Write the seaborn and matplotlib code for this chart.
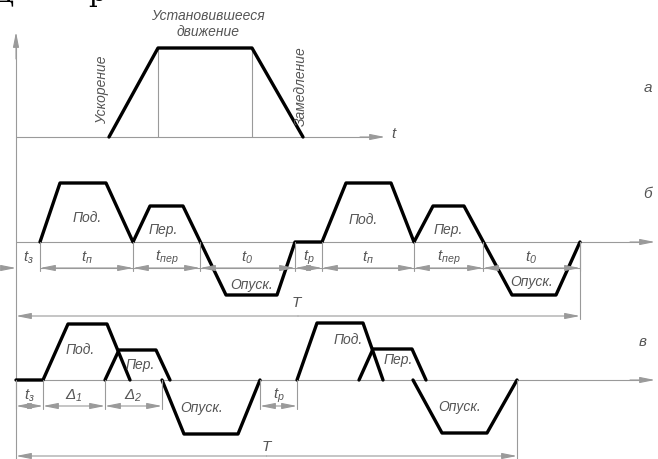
import pandas as pd
import seaborn as sns
import matplotlib.pyplot as plt

# --- chart values: time / speed in drawing units, measured from the speed axis ---
# a) one motion cycle
a_time = [93, 142, 236, 287]
a_speed = [0, 89, 89, 0]

# б) working cycle without overlap (two cycles)
b_time = [24, 44, 90, 117, 134, 167, 210, 261, 279,
          306, 330, 375, 398, 417, 448, 496, 540, 564]
b_speed = [0, 59, 59, 0, 36, 36, -53, -53, 0,
           0, 59, 59, 0, 36, 36, -53, -53, 0]
b_marks = [0, 24, 117, 184, 279, 306, 398, 467, 564]
b_marks_labels = ['з', 'п', 'пер', '0', 'р', 'п', 'пер', '0']
b_period = 564

# в) working cycle with overlap of lifting and moving
c_time = [0, 27, 52, 91, 114,
          89, 103, 140, 154,
          146, 168, 222, 244,
          281, 301, 347, 367,
          343, 357, 396, 410,
          397, 426, 471, 501]
c_speed = [0, 0, 56, 56, 0,
           0, 30, 30, 0,
           0, -54, -54, 0,
           0, 57, 57, 0,
           0, 31, 31, 0,
           0, -53, -53, 0]
c_piece = [1] * 5 + [2] * 4 + [3] * 4 + [4] * 4 + [5] * 4 + [6] * 4
c_marks = [[0, 27, 89, 146], [244, 281]]
c_marks_labels = [[r'$t_{з}$', r'$Δ_{1}$', r'$Δ_{2}$'], [r'$t_{р}$']]
c_period = 501

# --- layout ---
X0 = 16
BASE = {'а': 138, 'б': 243, 'в': 381}
THIN = '#9a9a9a'
TXT = '#555555'
FS = 10

sns.set_style('white')
plt.rcParams['font.family'] = ['Liberation Sans', 'DejaVu Sans']
plt.rcParams['mathtext.fontset'] = 'custom'
plt.rcParams['mathtext.it'] = 'Liberation Sans:italic'
plt.rcParams['mathtext.rm'] = 'Liberation Sans:italic'

fig = plt.figure(figsize=(6.58, 4.6), dpi=100)
ax = fig.add_axes([0, 0, 1, 1])
ax.set_xlim(0, 658)
ax.set_ylim(460, 0)
ax.set_axis_off()


def arrow(x1, y1, x2, y2, both=False, lw=0.8, color=THIN):
    style = '<|-|>' if both else '-|>'
    ax.annotate('', xy=(x2, y2), xytext=(x1, y1),
                arrowprops=dict(arrowstyle=style + ',head_length=0.9,head_width=0.18',
                                mutation_scale=10, lw=lw, color=color,
                                shrinkA=0, shrinkB=0))


def label(x, y, s, size=FS, **kw):
    ax.text(x, y, s, fontsize=size, style='italic', color=TXT,
            ha='center', va='center', **kw)


def curve(time, speed, base, piece=None):
    df = pd.DataFrame({'x': [X0 + t for t in time],
                       'y': [base - v for v in speed],
                       'piece': piece if piece is not None else [0] * len(time)})
    sns.lineplot(data=df, x='x', y='y', units='piece', estimator=None, sort=False,
                 color='black', lw=2.4, ax=ax, legend=False)


def dims(marks, labels, base, off=26):
    yd = base + off
    for m in marks:
        ax.plot([X0 + m, X0 + m], [base, yd + 3], color=THIN, lw=0.8)
    for (l, r), lab in zip(zip(marks[:-1], marks[1:]), labels):
        arrow(X0 + l, yd, X0 + r, yd, both=True)
        label(X0 + (l + r) / 2, base + 15, lab, size=FS + 1)


# bits of the page text above the figure, cut by the frame
ax.text(3, 1, 'Д', fontsize=20, family='DejaVu Serif', color='black',
        ha='center', va='baseline', clip_on=True)
ax.text(97, 1, 'р', fontsize=20, family='DejaVu Serif', color='black',
        ha='center', va='baseline', clip_on=True)

# speed axis
ax.plot([X0, X0], [460, 40], color=THIN, lw=0.8)
arrow(X0, 60, X0, 33)

# ---- a ----
ya = BASE['а']
ax.plot([X0, 370], [ya, ya], color=THIN, lw=0.8)
arrow(360, ya, 385, ya)
label(393, ya - 4, 't', size=FS + 1)
for t in a_time[1:3]:
    ax.plot([X0 + t, X0 + t], [ya, ya - a_speed[1]], color=THIN, lw=0.8)
curve(a_time, a_speed, ya)
label(208, 24, 'Установившееся\nдвижение', linespacing=1.1)
label(102, 90, 'Ускорение', rotation=90)
label(301, 86, 'Замедление', rotation=90)
label(648, 88, 'а', size=FS + 1)

# ---- б ----
yb = BASE['б']
ax.plot([X0, 640], [yb, yb], color=THIN, lw=0.8)
arrow(630, yb, 655, yb)
curve(b_time, b_speed, yb)
ax.plot([X0 + b_marks[1], X0 + b_marks[-1]], [yb + 26, yb + 26], color=THIN, lw=0.8)
arrow(2, yb + 26, X0, yb + 26)
dims(b_marks[1:], [r'$t_{%s}$' % s for s in b_marks_labels[1:]], yb)
label(X0 + 12, yb + 15, r'$t_{%s}$' % b_marks_labels[0], size=FS + 1)
ax.plot([X0 + b_period] * 2, [yb, yb + 77], color=THIN, lw=0.8)
arrow(X0 + b_period / 2, yb + 74, X0, yb + 74)
arrow(X0 + b_period / 2, yb + 74, X0 + b_period, yb + 74)
label(X0 + b_period / 2 - 2, yb + 60, 'T', size=FS + 1)
for lab, x, y in [('Под.', 87, 218), ('Пер.', 163, 230), ('Опуск.', 252, 285),
                  ('Под.', 363, 220), ('Пер.', 448, 230), ('Опуск.', 532, 282)]:
    label(x, y, lab)
label(648, 194, 'б', size=FS + 1)

# ---- в ----
yc = BASE['в']
ax.plot([X0, 640], [yc, yc], color=THIN, lw=0.8)
arrow(630, yc, 655, yc)
curve(c_time, c_speed, yc, c_piece)
for marks, labels in zip(c_marks, c_marks_labels):
    dims(marks, labels, yc)
ax.plot([X0 + c_period] * 2, [yc, yc + 79], color=THIN, lw=0.8)
arrow(X0 + c_period / 2, yc + 76, X0, yc + 76)
arrow(X0 + c_period / 2, yc + 76, X0 + c_period, yc + 76)
label(X0 + c_period / 2, yc + 66, 'T', size=FS + 1)
for lab, x, y in [('Под.', 80, 350), ('Пер.', 140, 365), ('Опуск.', 202, 408),
                  ('Под.', 348, 340), ('Пер.', 398, 360), ('Опуск.', 460, 407)]:
    label(x, y, lab)
label(643, 342, 'в', size=FS + 1)

fig.savefig('out.png', dpi=100)
